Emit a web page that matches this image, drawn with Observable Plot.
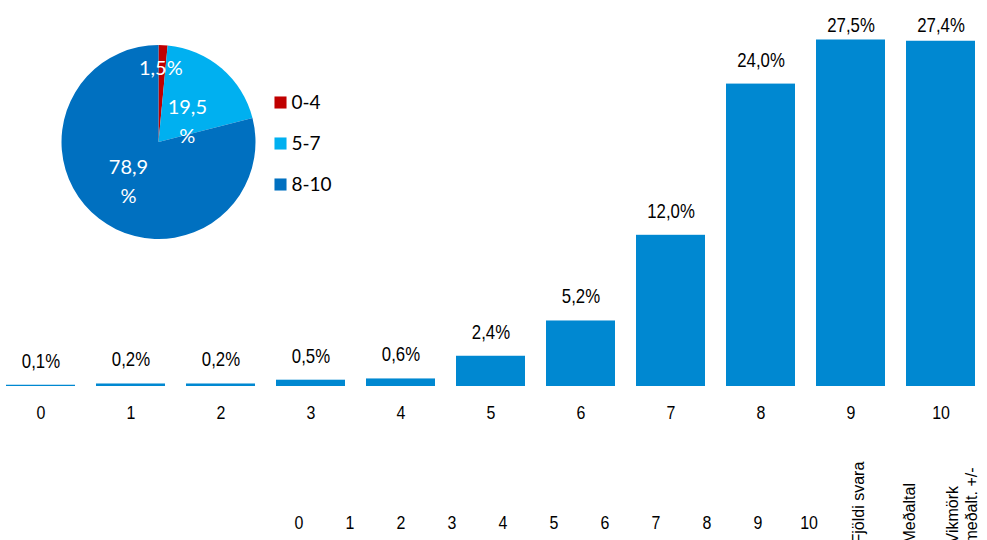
<!DOCTYPE html>
<html>
<head>
<meta charset="utf-8">
<script src="https://cdn.jsdelivr.net/npm/d3@7"></script>
<script src="https://cdn.jsdelivr.net/npm/@observablehq/plot@0.6"></script>
<style>
  html, body { margin: 0; padding: 0; background: #fff; overflow: hidden; }
  #wrap { position: relative; width: 987px; height: 540px; overflow: hidden; }
  #wrap > svg, #wrap > figure { position: absolute; left: 0; top: 0; margin: 0; }
</style>
</head>
<body>
<div id="wrap"></div>
<script>
// ---- data ----
const scores = ["0", "1", "2", "3", "4", "5", "6", "7", "8", "9", "10"];
const shares = [0.1, 0.2, 0.2, 0.5, 0.6, 2.4, 5.2, 12.0, 24.0, 27.5, 27.4];
const groups = ["0-4", "5-7", "8-10"];
const groupShares = [1.5, 19.5, 78.9];
const groupColors = ["#C00000", "#00B0F0", "#0070C0"];
const tableNumbers = ["0", "1", "2", "3", "4", "5", "6", "7", "8", "9", "10"];
const tableExtra = ["Fjöldi svara", "Meðaltal", "Vikmörk\nmeðalt. +/-"];

const bars = scores.map((s, i) => ({score: s, share: shares[i]}));
const pieData = groups.map((g, i) => ({group: g, share: groupShares[i]}));
const fmt = v => v.toFixed(1).replace(".", ",") + "%";

const sans = "'Liberation Sans', Arial, sans-serif";
const wrap = document.getElementById("wrap");

// condense text horizontally (Arial Narrow look) while keeping it as real text
function condense(root, sel, k) {
  root.querySelectorAll(sel).forEach(t => {
    let tr = t.getAttribute("transform");
    if (!tr) {
      const x = +(t.getAttribute("x") || 0), y = +(t.getAttribute("y") || 0);
      t.removeAttribute("x"); t.removeAttribute("y");
      tr = `translate(${x},${y})`;
    }
    t.setAttribute("transform", tr + ` scale(${k},1)`);
  });
}

// ---- bar chart ----
const yTop = 28.65;
const barPlot = Plot.plot({
  width: 987, height: 540, margin: 0,
  style: {fontFamily: sans, background: "transparent", color: "#000"},
  x: {type: "band", domain: scores, range: [-4.5, 985.5], paddingInner: 0.233, paddingOuter: 0.1165, axis: null},
  y: {domain: [0, yTop], range: [386, 25], axis: null},
  marks: [
    Plot.barY(bars, {x: "score", y: "share", fill: "#0088D1"}),
    Plot.text(bars, {x: "score", y: d => Math.min(d.share + 1.9, yTop), text: d => fmt(d.share), fontSize: 20, fill: "#000"}),
    Plot.text(bars, {x: "score", y: () => 0, dy: 26, text: "score", fontSize: 19, fill: "#000"})
  ]
});
condense(barPlot, "text", 0.84);
wrap.appendChild(barPlot);

// ---- table header row ----
const tablePlot = Plot.plot({
  width: 987, height: 540, margin: 0,
  style: {fontFamily: sans, background: "transparent", color: "#000"},
  x: {type: "band", domain: [...tableNumbers, ...tableExtra], range: [269.25, 990.25], padding: 0, axis: null},
  marks: [
    Plot.text(tableNumbers, {x: d => d, frameAnchor: "bottom", dy: -12, text: d => d, fontSize: 19, fill: "#000", className: "num"}),
    Plot.text(tableExtra.slice(0, 2), {x: d => d, frameAnchor: "bottom", dx: 4, dy: 3, rotate: -90, textAnchor: "start",
      text: d => d, fontSize: 16, fill: "#000"}),
    Plot.text(tableExtra.slice(2), {x: d => d, frameAnchor: "bottom", dx: 15, dy: 3, rotate: -90, textAnchor: "start",
      text: d => d, fontSize: 16, lineHeight: 1.2, fill: "#000"})
  ]
});
condense(tablePlot, ".num text", 0.84);
wrap.appendChild(tablePlot);

// ---- pie + legend ----
const pieMark = (index, scales) => {
  const cx = 158.5, cy = 142, r = 97;
  const labelRadius = [75, 36, 49];
  const labelAlong = [0.33, 0.68, 0.5];
  const g = d3.create("svg:g").attr("transform", `translate(${cx},${cy})`);
  const arcs = d3.pie().sort(null).value(d => d.share)(pieData);
  const arc = d3.arc().innerRadius(0).outerRadius(r);
  g.selectAll("path").data(arcs).join("path")
    .attr("d", arc)
    .attr("fill", d => scales.color(d.data.group));
  arcs.forEach((a, i) => {
    const ang = a.startAngle + (a.endAngle - a.startAngle) * labelAlong[i];
    const lx = Math.sin(ang) * labelRadius[i];
    const ly = -Math.cos(ang) * labelRadius[i];
    const num = a.data.share.toFixed(1).replace(".", ",");
    const lines = a.data.share >= 5 ? [num, "%"] : [num + "%"];
    const t = g.append("text")
      .attr("fill", "#fff")
      .attr("font-family", "Lato, 'Open Sans', sans-serif")
      .attr("font-size", 20)
      .attr("text-anchor", "middle")
      .attr("dominant-baseline", "central");
    const lh = 29;
    lines.forEach((s, k) => {
      t.append("tspan")
        .attr("x", lx)
        .attr("y", ly + (k - (lines.length - 1) / 2) * lh)
        .text(s);
    });
  });
  return g.node();
};

const piePlot = Plot.plot({
  width: 987, height: 540, margin: 0,
  style: {fontFamily: "Lato, 'Open Sans', sans-serif", background: "transparent", color: "#000"},
  x: {type: "point", domain: ["key"], range: [280, 280], padding: 0, axis: null},
  y: {type: "point", domain: groups, range: [101, 184], padding: 0, axis: null},
  color: {domain: groups, range: groupColors},
  marks: [
    pieMark,
    Plot.dot(groups, {x: () => "key", y: d => d, symbol: "square", r: 6.8, fill: d => d}),
    Plot.text(groups, {x: () => "key", y: d => d, text: d => d, dx: 11, textAnchor: "start", fontSize: 19, fill: "#000"})
  ]
});
wrap.appendChild(piePlot);
</script>
</body>
</html>
